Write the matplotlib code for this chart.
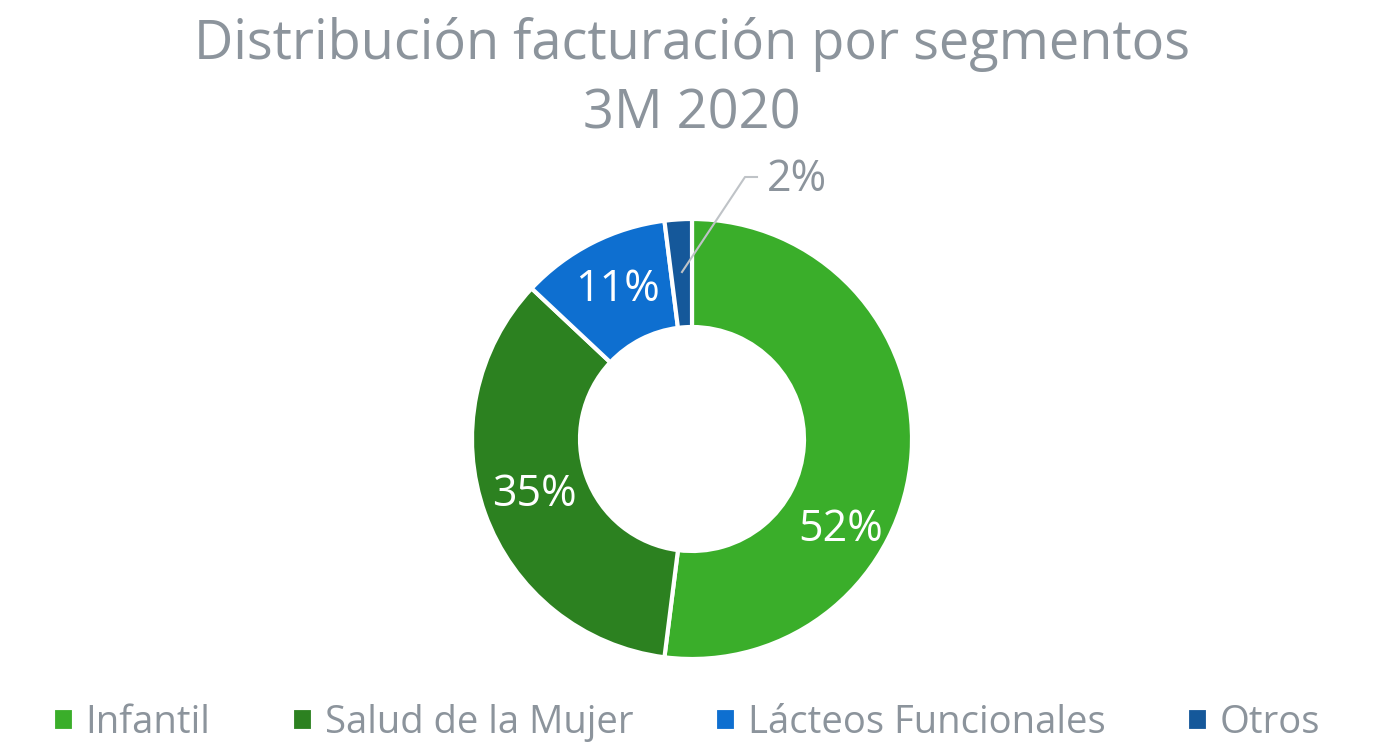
import matplotlib
matplotlib.use('Agg')
import matplotlib.pyplot as plt

# data
segments = ['Infantil', 'Salud de la Mujer', 'Lácteos Funcionales', 'Otros']
shares = [52, 35, 11, 2]
labels = ['52%', '35%', '11%', '2%']
colors = ['#3AAE2A', '#2C8120', '#0E6FD0', '#15589A']

gray = '#8C949C'
plt.rcParams['font.family'] = ['Open Sans', 'DejaVu Sans']

fig = plt.figure(figsize=(13.73, 7.44), dpi=100)
ax = fig.add_axes([0, 0, 1, 1])

wedges, _ = ax.pie(shares, colors=colors, startangle=90, counterclock=False,
                   center=(692, 305), radius=220, frame=True,
                   wedgeprops=dict(width=108, edgecolor='white', linewidth=3))
ax.set_xlim(0, 1373)
ax.set_ylim(0, 744)
ax.set_aspect('equal')
ax.axis('off')

# in-slice labels
ax.text(841, 214, labels[0], color='white', fontsize=31, ha='center', va='center')
ax.text(534, 249, labels[1], color='white', fontsize=31, ha='center', va='center')
ax.text(617, 454, labels[2], color='white', fontsize=31, ha='center', va='center')

# outside label with leader line
ax.plot([682, 745, 757], [472, 567, 567], color='#BFC3C7', lw=1.5)
ax.text(797, 564, labels[3], color=gray, fontsize=31, ha='center', va='center')

fig.text(0.504, 0.94, 'Distribución facturación por segmentos', color=gray,
         fontsize=39, ha='center', va='center')
fig.text(0.504, 0.847, '3M 2020', color=gray, fontsize=39, ha='center', va='center')

ax.legend(wedges, segments, loc='center', bbox_to_anchor=(0.5, 0.028),
          bbox_transform=fig.transFigure, ncol=4, frameon=False,
          fontsize=27.5, labelcolor=gray, handlelength=0.55, handleheight=0.55,
          handletextpad=0.3, columnspacing=2.15)

fig.savefig('out.png', dpi=100)
